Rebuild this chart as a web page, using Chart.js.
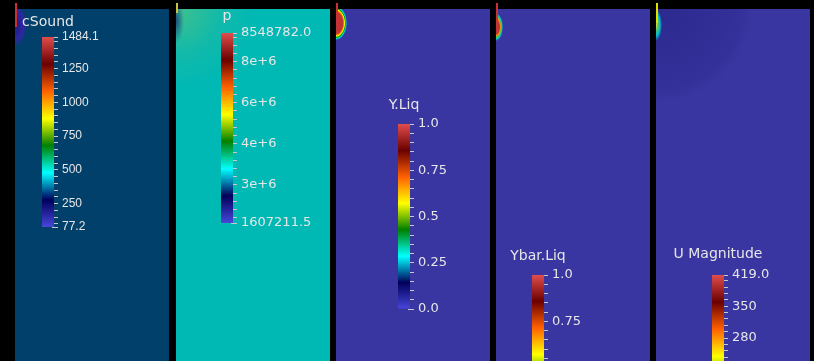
<!DOCTYPE html>
<html>
<head>
<meta charset="utf-8">
<script src="https://cdn.jsdelivr.net/npm/chart.js@4.4.0/dist/chart.umd.min.js"></script>
<style>
  html, body { margin: 0; padding: 0; background: #000; width: 814px; height: 361px; overflow: hidden; }
  .panel { position: absolute; top: 9px; width: 154px; height: 480px; }
  .panel canvas { position: absolute; left: 0; top: 0; }
  .jet { position: absolute; left: 0; top: -6px; width: 2px; }
  #p0 { left: 15px;
    background: radial-gradient(ellipse 13px 22px at 0px 16px, rgba(30,26,130,1) 0, rgba(44,40,160,1) 65%, rgba(44,40,160,0) 100%), #00406a; }
  #p1 { left: 176px;
    background: radial-gradient(ellipse 8px 22px at 0px 12px, rgba(20,60,120,0.85) 0, rgba(20,60,120,0) 100%),
                radial-gradient(circle at 0px 0px, rgba(130,200,100,0.5) 0, rgba(70,190,140,0.25) 45px, rgba(0,184,180,0) 80px), #00b8b4; }
  #p2 { left: 336px;
    background: radial-gradient(ellipse 11px 17px at 0px 14px, #c03434 0, #c03434 62%, #ff8000 70%, #ffff00 77%, #00a000 84%, #00e0e0 91%, rgba(57,54,161,0) 100%), #3936a1; }
  #p3 { left: 496px;
    background: radial-gradient(ellipse 7px 14px at 0px 18px, #c03434 0, #c03434 50%, #ff9000 62%, #60c040 72%, #00d0d0 84%, rgba(57,54,161,0) 100%), #3936a1; }
  #p4 { left: 656px;
    background: radial-gradient(ellipse 6px 16px at 0px 16px, #e0e030 0, #40c080 40%, #00c0d0 65%, rgba(57,54,161,0) 100%),
                radial-gradient(circle 92px at 4px 0px, rgba(34,32,128,0.55) 0, rgba(40,38,140,0.35) 80px, rgba(57,54,161,0) 92px), #3936a1; }
</style>
</head>
<body>
<div class="panel" id="p0"><div class="jet" style="height:24px;background:#c83232"></div><canvas id="c0" width="154" height="480"></canvas></div>
<div class="panel" id="p1"><div class="jet" style="height:10px;background:#c8c040"></div><canvas id="c1" width="154" height="480"></canvas></div>
<div class="panel" id="p2"><div class="jet" style="height:22px;background:#c83232"></div><canvas id="c2" width="154" height="480"></canvas></div>
<div class="panel" id="p3"><div class="jet" style="height:22px;background:#c83232"></div><canvas id="c3" width="154" height="480"></canvas></div>
<div class="panel" id="p4"><div class="jet" style="height:20px;background:#e0e000"></div><canvas id="c4" width="154" height="480"></canvas></div>
<script>
// scalar bars: name, range, labelled values
const fields = ['cSound', 'p', 'Y.Liq', 'Ybar.Liq', 'U Magnitude'];
const fieldMin = [77.2, 1607211.5, 0, 0, 0];
const fieldMax = [1484.1, 8548782.0, 1, 1, 419];
const minorStep = [50, 300000, 0.05, 0.05, 14];

const cSoundValues = [1484.1, 1250, 1000, 750, 500, 250, 77.2];
const cSoundLabels = ['1484.1', '1250', '1000', '750', '500', '250', '77.2'];
const pValues = [8548782.0, 7500000, 6000000, 4500000, 3000000, 1607211.5];
const pLabels = ['8548782.0', '8e+6', '6e+6', '4e+6', '3e+6', '1607211.5'];
const yLiqValues = [1, 0.75, 0.5, 0.25, 0];
const yLiqLabels = ['1.0', '0.75', '0.5', '0.25', '0.0'];
const uMagValues = [419, 350, 280, 210, 140, 70, 0];
const uMagLabels = ['419.0', '350', '280', '210', '140', '70', '0.0'];

const labelValues = [cSoundValues, pValues, yLiqValues, yLiqValues, uMagValues];
const labelTexts = [cSoundLabels, pLabels, yLiqLabels, yLiqLabels, uMagLabels];

// Rainbow Desaturated colour map
const mapStops = [0, 0.143, 0.285, 0.429, 0.571, 0.714, 0.857, 1];
const mapColors = ['#4747db', '#00005c', '#00ffff', '#008000', '#ffff00', '#ff6100', '#6b0000', '#e04d4d'];

// page layout (pixels)
const panelLeft = [15, 176, 336, 496, 656];
const panelTop = 9;
const barLeft = [42, 221, 398, 532, 712];
const barTop = [37, 33, 124, 275, 275];
const barBottom = [227, 223, 309, 460, 465];
const titleGap = [11, 13, 15, 15, 17];
const labelFont = [
    { family: 'Liberation Sans', size: 12 },
    { family: 'DejaVu Sans', size: 13 },
    { family: 'DejaVu Sans', size: 13 },
    { family: 'DejaVu Sans', size: 13 },
    { family: 'DejaVu Sans', size: 13 },
];
const barWidth = 12;
const tickInset = 2;   // ticks start a little inside the bar
const axisWidth = 82;

const textColor = '#e6e6e6';
const tickColor = '#c8c8c8';

const barTitle = {
    id: 'barTitle',
    afterDraw(chart, args, opts) {
        const { ctx, chartArea } = chart;
        ctx.save();
        ctx.font = '14px "DejaVu Sans"';
        ctx.fillStyle = textColor;
        ctx.textAlign = 'center';
        ctx.textBaseline = 'alphabetic';
        ctx.fillText(opts.text, (chartArea.left + chartArea.right) / 2, chartArea.top - opts.gap);
        ctx.restore();
    }
};

const makeTicks = (min, max, step) => {
    const ticks = [min];
    for (let k = Math.ceil(min / step); k * step < max; k++) {
        const v = +(k * step).toFixed(6);
        if (v > min + step * 0.01 && v < max - step * 0.01) ticks.push(v);
    }
    ticks.push(max);
    return ticks;
};

const drawBar = (i) => {
    const canvas = document.querySelector(`#c${i}`);
    const inner = barWidth - 2 * tickInset;
    const left = barLeft[i] - panelLeft[i] + tickInset;
    const top = barTop[i] - panelTop;
    const bottom = canvas.height - (barBottom[i] - panelTop);
    const right = Math.max(0, canvas.width - left - inner - axisWidth);
    const ticks = makeTicks(fieldMin[i], fieldMax[i], minorStep[i]);

    new Chart(canvas.getContext('2d'), {
        type: 'bar',
        data: {
            labels: [fields[i]],
            datasets: [{
                data: [[fieldMin[i], fieldMax[i]]],
                backgroundColor: (c) => {
                    const area = c.chart.chartArea;
                    if (!area) return mapColors[0];
                    const g = c.chart.ctx.createLinearGradient(0, area.bottom, 0, area.top);
                    mapStops.forEach((s, j) => g.addColorStop(s, mapColors[j]));
                    return g;
                },
                borderWidth: 0,
                barPercentage: barWidth / inner,
                categoryPercentage: 1,
                clip: false,
            }],
        },
        options: {
            responsive: false,
            animation: false,
            events: [],
            layout: { padding: { left, right, top, bottom } },
            plugins: {
                legend: { display: false },
                tooltip: { enabled: false },
                barTitle: { text: fields[i], gap: titleGap[i] },
            },
            scales: {
                x: { display: false },
                y: {
                    position: 'right',
                    min: fieldMin[i],
                    max: fieldMax[i],
                    afterBuildTicks: (s) => { s.ticks = ticks.map(v => ({ value: v })); },
                    afterFit: (s) => { s.width = axisWidth; s.paddingTop = 0; s.paddingBottom = 0; },
                    ticks: {
                        autoSkip: false,
                        padding: 4,
                        color: textColor,
                        font: labelFont[i],
                        callback: (v) => {
                            const j = labelValues[i].findIndex(l => Math.abs(l - v) < minorStep[i] * 0.01);
                            return j < 0 ? '' : labelTexts[i][j];
                        }
                    },
                    grid: { drawOnChartArea: false, drawTicks: true, tickLength: 6, tickColor: tickColor, lineWidth: 1 },
                    border: { display: false },
                }
            }
        },
        plugins: [barTitle]
    });
};

fields.forEach((f, i) => drawBar(i));
</script>
</body>
</html>
